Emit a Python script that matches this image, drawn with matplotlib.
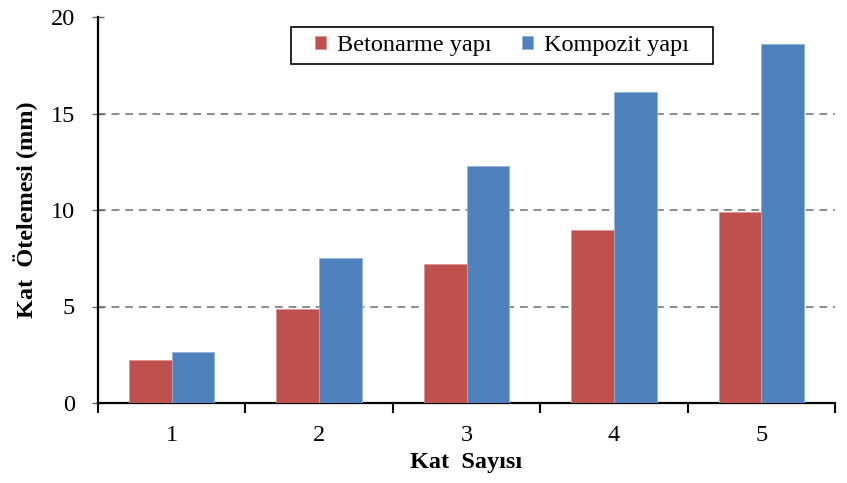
import matplotlib
matplotlib.use("Agg")
import matplotlib.pyplot as plt
from matplotlib.patches import Rectangle
import numpy as np

categories = ["1", "2", "3", "4", "5"]
betonarme = [2.25, 4.85, 7.2, 8.97, 9.92]
kompozit = [2.65, 7.5, 12.3, 16.1, 18.6]
series_names = ["Betonarme yapı", "Kompozit yapı"]
yticks = [0, 5, 10, 15, 20]

plt.rcParams['font.family'] = ['Liberation Serif', 'DejaVu Serif']
FS = 17.5

fig = plt.figure(figsize=(8.47, 4.83), dpi=100)
ax = fig.add_axes([98/847, 1-403/483, (835-98)/847, (403-17)/483])

x = np.arange(1, len(categories)+1)
w = 0.29
ax.bar(x - w/2, betonarme, w, color='#C0504D', edgecolor='#D99694', linewidth=0.6, label=series_names[0], zorder=3)
ax.bar(x + w/2, kompozit, w, color='#4F81BD', edgecolor='#95B3D7', linewidth=0.6, label=series_names[1], zorder=3)

ax.set_xlim(0.5, len(categories)+0.5)
ax.set_ylim(0, 20)
ax.set_yticks(yticks)
ax.set_yticklabels([str(v) for v in yticks], fontsize=FS)
for v in yticks[1:-1]:
    ax.axhline(v, color='#8C8C8C', linestyle=(0, (4, 3)), linewidth=1.4, zorder=1)

ax.set_xticks(x)
ax.set_xticklabels(categories, fontsize=FS)
ax.tick_params(axis='x', which='major', length=0, pad=16)
ax.set_xticks(np.arange(0.5, len(categories)+1.0, 1.0), minor=True)
ax.tick_params(axis='x', which='minor', length=7, width=1.5, direction='out', color='black')
ax.tick_params(axis='y', which='major', length=9, width=1.0, direction='inout', color='#666666', pad=12)

for s in ['top', 'right']:
    ax.spines[s].set_visible(False)
for s in ['left', 'bottom']:
    ax.spines[s].set_linewidth(1.6)
    ax.spines[s].set_color('black')

ax.set_ylabel("Kat  Ötelemesi (mm)", fontsize=FS, fontweight='bold', labelpad=9)
ax.set_xlabel("Kat  Sayısı", fontsize=FS, fontweight='bold', labelpad=4)

# legend box frame
ax.add_patch(Rectangle((0.2619, 0.878), 0.8345-0.2619, 0.974-0.878, transform=ax.transAxes,
                       facecolor='white', edgecolor='black', linewidth=1.2, zorder=4))
leg = ax.legend(loc='center', bbox_to_anchor=(0.548, 0.926), ncol=2, fontsize=FS,
                frameon=False, handlelength=0.45, handleheight=0.45, handletextpad=0.45,
                columnspacing=1.25, borderpad=0.0, borderaxespad=0)
leg.set_zorder(5)

fig.savefig("out.png", dpi=100)
